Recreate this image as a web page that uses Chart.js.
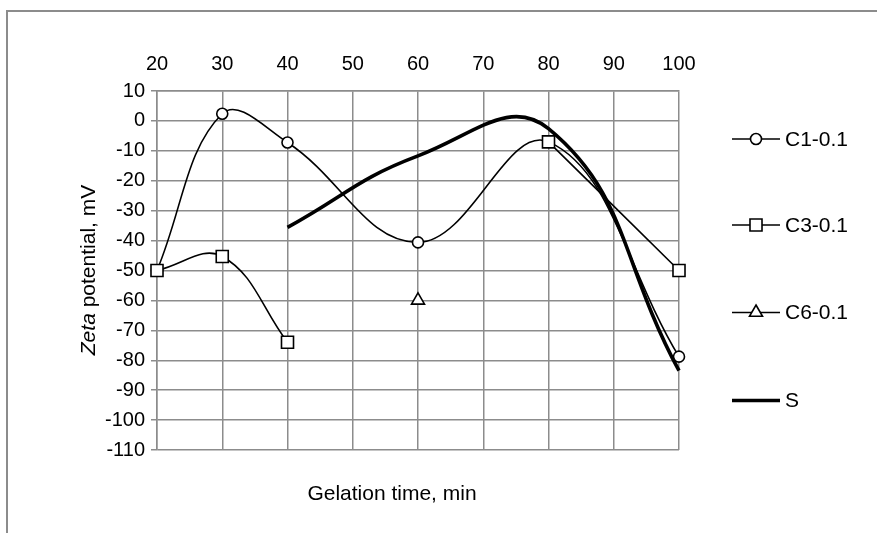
<!DOCTYPE html>
<html lang="en">
<head>
<meta charset="UTF-8">
<title>Zeta potential vs gelation time</title>
<script src="https://cdn.jsdelivr.net/npm/chart.js"></script>
<style>
    html, body { margin: 0; padding: 0; background: #fff; }
    #box { width: 877px; height: 533px; }
</style>
</head>
<body>
<div id="box"><canvas id="grafico" width="877" height="533"></canvas></div>
<script>
    // gelation time, min (measured points)
    const tempos = [20, 30, 40, 60, 80, 100];
    // zeta potential, mV
    const c1 = [-50, 2.4, -7.2, -40.6, -7, -78.8];
    const c3 = [-50, -45.3, -74, null, -7, -50];
    const c6 = [null, null, null, -60, null, null];
    const s = [null, null, -35.6, -11.7, -2.6, -83.5];
    const nomes = ['C1-0.1', 'C3-0.1', 'C6-0.1', 'S'];
    const xTicks = [20, 30, 40, 50, 60, 70, 80, 90, 100];
    const yTicks = [10, 0, -10, -20, -30, -40, -50, -60, -70, -80, -90, -100, -110];

    const fonte = '"Liberation Sans", Arial, sans-serif';

    function pontos(valores) {
        return tempos.map((t, i) => ({ x: t, y: valores[i] }));
    }

    const series = [
        { label: nomes[0], data: pontos(c1), pointStyle: 'circle', pointRadius: 5.5, borderWidth: 1.6, tension: 0.4 },
        { label: nomes[1], data: pontos(c3), pointStyle: 'rect', pointRadius: 8.5, borderWidth: 1.6, tension: 0.4 },
        { label: nomes[2], data: pontos(c6), pointStyle: 'triangle', pointRadius: 7.5, borderWidth: 1.6, tension: 0.4 },
        { label: nomes[3], data: pontos(s), pointStyle: false, pointRadius: 0, borderWidth: 3.6, tension: 0.45 }
    ];

    const datasets = series.map((d, i) => ({
        label: d.label,
        data: d.data,
        borderColor: '#000',
        backgroundColor: '#fff',
        borderWidth: d.borderWidth,
        pointStyle: d.pointStyle,
        pointRadius: d.pointRadius,
        pointBorderWidth: 1.6,
        pointBorderColor: '#000',
        pointBackgroundColor: '#fff',
        tension: d.tension,
        spanGaps: false,
        clip: false,
        order: 3 - i
    }));

    // moldura, titulos dos eixos e legenda
    const extras = {
        id: 'extras',
        beforeDraw(chart) {
            const ctx = chart.ctx;
            ctx.save();
            ctx.strokeStyle = '#8c8c8c';
            ctx.lineWidth = 2;
            ctx.beginPath();
            ctx.moveTo(7, 533);
            ctx.lineTo(7, 11);
            ctx.lineTo(877, 11);
            ctx.stroke();
            ctx.restore();
        },
        afterDraw(chart) {
            const ctx = chart.ctx;
            ctx.save();
            ctx.fillStyle = '#000';
            ctx.font = '21px ' + fonte;
            ctx.textAlign = 'center';
            ctx.textBaseline = 'middle';
            ctx.fillText('Gelation time, min', 392, 494);

            // titulo vertical com "Zeta" em italico
            ctx.translate(89, 270);
            ctx.rotate(-Math.PI / 2);
            const italico = 'italic 21px ' + fonte;
            const normal = '21px ' + fonte;
            ctx.font = italico;
            const w1 = ctx.measureText('Zeta').width;
            ctx.font = normal;
            const w2 = ctx.measureText(' potential, mV').width;
            ctx.textAlign = 'left';
            ctx.font = italico;
            ctx.fillText('Zeta', -(w1 + w2) / 2, 0);
            ctx.font = normal;
            ctx.fillText(' potential, mV', -(w1 + w2) / 2 + w1, 0);
            ctx.restore();

            // legenda
            const ys = [139, 225, 312.5, 400.5];
            chart.data.datasets.forEach((d, i) => {
                const y = ys[i];
                ctx.save();
                ctx.strokeStyle = '#000';
                ctx.lineWidth = d.borderWidth;
                ctx.beginPath();
                ctx.moveTo(732, y);
                ctx.lineTo(780, y);
                ctx.stroke();
                if (d.pointStyle) {
                    ctx.fillStyle = '#fff';
                    ctx.lineWidth = 1.6;
                    Chart.helpers.drawPoint(ctx, { pointStyle: d.pointStyle, radius: d.pointRadius, borderWidth: 1.6, rotation: 0 }, 756, y);
                }
                ctx.fillStyle = '#000';
                ctx.font = '21px ' + fonte;
                ctx.textAlign = 'left';
                ctx.textBaseline = 'middle';
                ctx.fillText(d.label, 785, y + 1);
                ctx.restore();
            });
        }
    };

    new Chart(document.getElementById('grafico'), {
        type: 'line',
        data: { datasets: datasets },
        options: {
            responsive: false,
            animation: false,
            layout: { padding: { left: 0, top: 0, right: 198, bottom: 83 } },
            plugins: { legend: { display: false }, tooltip: { enabled: false } },
            scales: {
                x: {
                    type: 'linear',
                    position: 'top',
                    min: 20,
                    max: 100,
                    afterBuildTicks: (scale) => { scale.ticks = xTicks.map(v => ({ value: v })); },
                    afterFit: (scale) => { scale.height = 91; },
                    ticks: { color: '#000', font: { family: fonte, size: 20 }, padding: 15, maxRotation: 0 },
                    grid: { color: '#8c8c8c', lineWidth: 1.5, drawTicks: false },
                    border: { color: '#8c8c8c', width: 1.5 }
                },
                y: {
                    min: -110,
                    max: 10,
                    afterBuildTicks: (scale) => { scale.ticks = yTicks.map(v => ({ value: v })); },
                    afterFit: (scale) => { scale.width = 157; },
                    ticks: { color: '#000', font: { family: fonte, size: 20 }, padding: 6 },
                    grid: { color: '#8c8c8c', lineWidth: 1.5, tickLength: 6 },
                    border: { color: '#8c8c8c', width: 1.5 }
                }
            }
        },
        plugins: [extras]
    });
</script>
</body>
</html>
